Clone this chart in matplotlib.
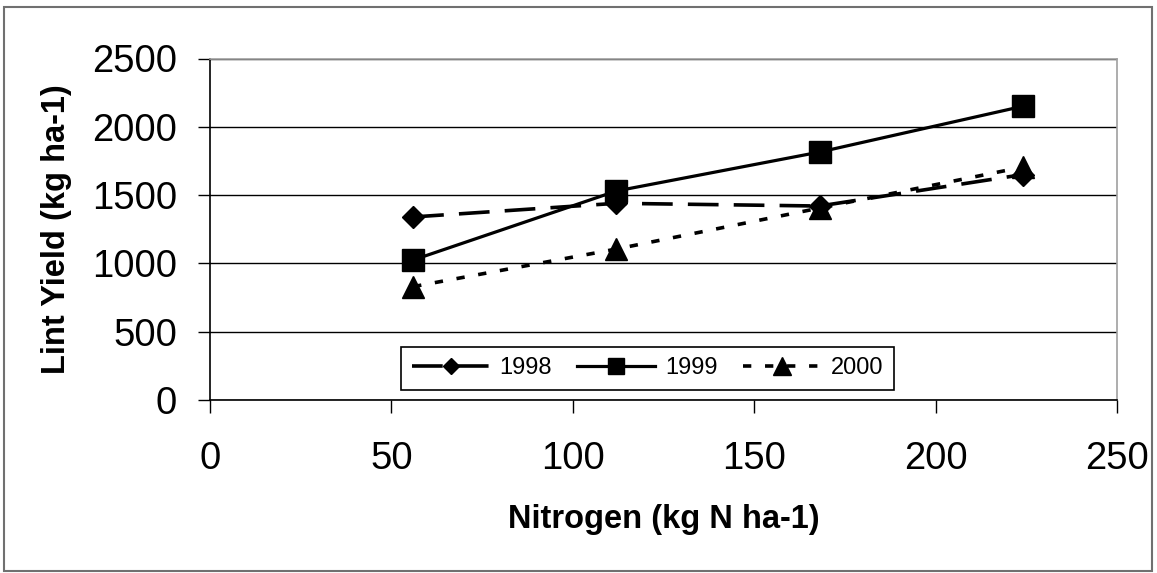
import matplotlib
matplotlib.use("Agg")
import matplotlib.pyplot as plt
from matplotlib.patches import Rectangle

# values
nitrogen = [56, 112, 168, 224]
yield_1998 = [1340, 1440, 1420, 1650]
yield_1999 = [1025, 1530, 1815, 2150]
yield_2000 = [830, 1105, 1405, 1705]
series_labels = ["1998", "1999", "2000"]
x_ticks = [0, 50, 100, 150, 200, 250]
y_ticks = [0, 500, 1000, 1500, 2000, 2500]

plt.rcParams['font.family'] = ['Liberation Sans', 'DejaVu Sans']

fig = plt.figure(figsize=(11.57, 5.73), dpi=100)
ax = fig.add_axes([210 / 1157, 1 - 400 / 573, 907 / 1157, 341.5 / 573])

# outer chart border
fig.patches.append(Rectangle((4 / 1157, 1 - 571 / 573), 1148 / 1157, 564 / 573,
                             transform=fig.transFigure, fill=False,
                             edgecolor='#707070', linewidth=1.5))

ax.plot(nitrogen, yield_1998, color='black', lw=2.6, linestyle=(0, (8.5, 4.2)),
        marker='D', markersize=11, label=series_labels[0])
ax.plot(nitrogen, yield_1999, color='black', lw=2.3, linestyle='-',
        marker='s', markersize=15.5, label=series_labels[1])
ax.plot(nitrogen, yield_2000, color='black', lw=2.6, linestyle=(0, (2.3, 3.8)),
        marker='^', markersize=16, label=series_labels[2])

ax.set_xlim(0, 250)
ax.set_ylim(0, 2500)
ax.set_xticks(x_ticks)
ax.set_yticks(y_ticks)
ax.tick_params(axis='y', direction='out', length=8.6, width=1, pad=15, labelsize=27.5)
ax.tick_params(axis='x', direction='out', length=9.4, width=1, pad=20, labelsize=27.5)

ax.set_axisbelow(True)
ax.grid(axis='y', color='black', linewidth=1.0)
ax.grid(axis='x', visible=False)

for side in ['left', 'bottom']:
    ax.spines[side].set_color('black')
    ax.spines[side].set_linewidth(1.2)
for side in ['top', 'right']:
    ax.spines[side].set_color('#a0a0a0')
    ax.spines[side].set_linewidth(1.2)

ax.set_xlabel('Nitrogen (kg N ha-1)', fontsize=23.5, fontweight='bold')
ax.set_ylabel('Lint Yield (kg ha-1)', fontsize=23.5, fontweight='bold')
ax.xaxis.set_label_coords(0.5, -0.305)
ax.yaxis.set_label_coords(-0.152, 0.5)

leg = ax.legend(loc='lower left', bbox_to_anchor=(0.2106, 0.029), ncol=3,
                frameon=True, fancybox=False, edgecolor='black', fontsize=17,
                handlelength=3.3, handletextpad=0.4, columnspacing=1.1,
                borderpad=0.45, borderaxespad=0, markerscale=0.78)
leg.get_frame().set_linewidth(1.2)
leg.get_frame().set_facecolor('white')
leg.get_frame().set_alpha(1)

plt.savefig('out.png', dpi=100)
plt.close()
